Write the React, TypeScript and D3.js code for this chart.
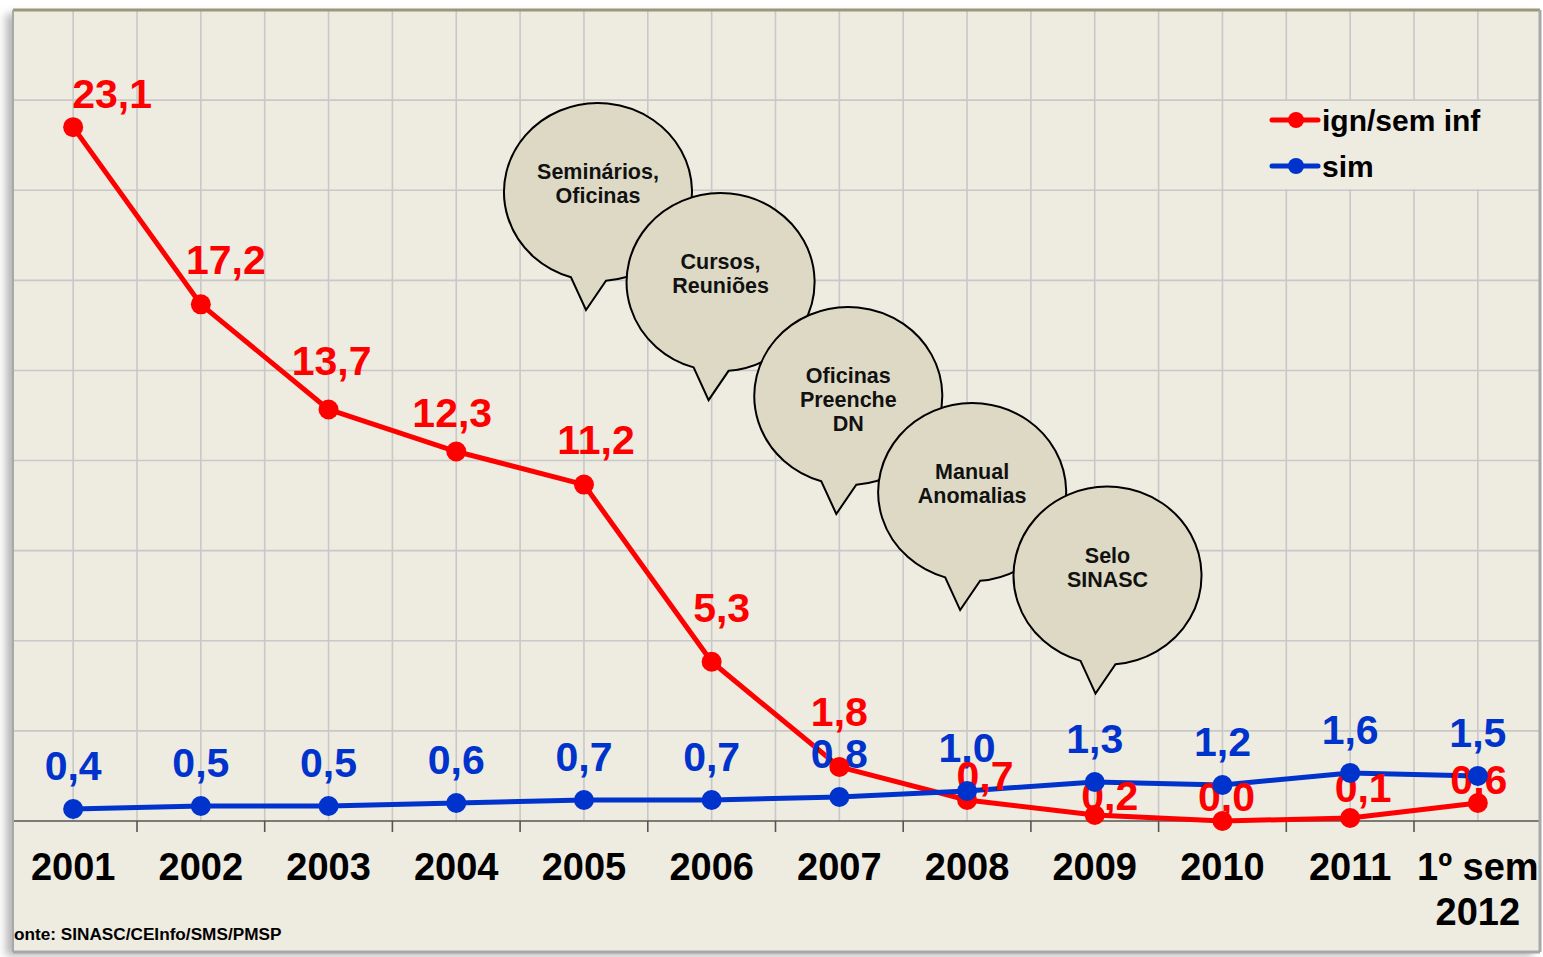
import React from "react";
import * as d3 from "d3";

const categories = ["2001", "2002", "2003", "2004", "2005", "2006", "2007", "2008", "2009", "2010", "2011", "1º sem|2012"];
const ignSemInf = [23.1, 17.2, 13.7, 12.3, 11.2, 5.3, 1.8, 0.7, 0.2, 0.0, 0.1, 0.6];
const sim = [0.4, 0.5, 0.5, 0.6, 0.7, 0.7, 0.8, 1.0, 1.3, 1.2, 1.6, 1.5];
const yTicks = [3, 6, 9, 12, 15, 18, 21, 24, 27];
const seriesNames = ["ign/sem inf", "sim"];

// layout: label offsets (px) for the red series labels
const redLabelOffsets: [number, number][] = [
  [39, -19], [25, -30], [3, -34], [-4, -25], [12, -31], [10, -40],
  [0, -41], [18, -10], [15, -5], [4, -10], [13, -16], [1, -9],
];

// annotation bubbles: fractional category index + y value of centre
const bubbles = [
  { idx: 4.11, value: 20.94, lines: ["Seminários,", "Oficinas"] },
  { idx: 5.07, value: 17.94, lines: ["Cursos,", "Reuniões"] },
  { idx: 6.07, value: 14.15, lines: ["Oficinas", "Preenche", "DN"] },
  { idx: 7.04, value: 10.95, lines: ["Manual", "Anomalias"] },
  { idx: 8.1, value: 8.17, lines: ["Selo", "SINASC"] },
];

const W = 1543, H = 957;
const FL = 13, FT = 10, FR = 1540, FB = 952;
const RED = "#FF0000";
const BLUE = "#0033CC";
const BG = "#EEEBE0";
const FONT = "'Liberation Sans', Arial, Helvetica, sans-serif";

export default function App() {
  const x = d3.scaleBand<string>().domain(categories).range([9.3, 1541.7]).paddingInner(0).paddingOuter(0);
  const bw = x.bandwidth();
  const cx = (c: string) => (x(c) as number) + bw / 2;
  const y = d3.scaleLinear().domain([0, 27]).range([821, 10]);
  const idxToX = d3.scaleLinear().domain([0, 1]).range([cx(categories[0]), cx(categories[1])]);

  const line = d3.line<number>().x((_, i) => cx(categories[i])).y((d) => y(d));

  const vGrid: number[] = [];
  categories.forEach((c, i) => {
    if (i > 0) vGrid.push(x(c) as number);
    vGrid.push(cx(c));
  });

  const fmt = (v: number) => v.toFixed(1).replace(".", ",");

  const rx = 94, ry = 89;
  const bubblePath = (bx: number, by: number) => {
    const lx = -27, rxp = 8;
    const ly = ry * Math.sqrt(1 - (lx / rx) ** 2);
    const rY = ry * Math.sqrt(1 - (rxp / rx) ** 2);
    return `M${bx + rxp},${by + rY} A${rx},${ry} 0 1 0 ${bx + lx},${by + ly} L${bx - 12},${by + 118} Z`;
  };

  return (
    <svg width={W} height={H} style={{ position: "absolute", left: 0, top: 0, background: "#fff" }} fontFamily={FONT}>
      <defs>
        <filter id="sh" x="-10%" y="-10%" width="120%" height="120%">
          <feGaussianBlur stdDeviation="4" />
        </filter>
        <clipPath id="frame">
          <rect x={FL} y={FT} width={FR - FL} height={FB - FT} />
        </clipPath>
      </defs>
      <rect x={FL - 7} y={FT + 4} width={FR - FL} height={FB - FT} fill="#b5b5b5" filter="url(#sh)" />
      <rect x={FL} y={FT} width={FR - FL} height={FB - FT} fill={BG} />
      <g clipPath="url(#frame)">
        {yTicks.map((t) => (
          <line key={"h" + t} x1={FL} x2={FR} y1={y(t)} y2={y(t)} stroke="#C8C8C8" strokeWidth={1.6} />
        ))}
        {vGrid.map((gx, i) => (
          <line key={"v" + i} x1={gx} x2={gx} y1={FT} y2={y(0)} stroke="#C8C8C8" strokeWidth={1.6} />
        ))}
        {/* axis */}
        <line x1={FL} x2={FR} y1={y(0)} y2={y(0)} stroke="#555" strokeWidth={1.6} />
        {categories.slice(1).map((c) => (
          <line key={"t" + c} x1={x(c) as number} x2={x(c) as number} y1={y(0)} y2={y(0) + 11} stroke="#555" strokeWidth={1.6} />
        ))}
        {categories.map((c) => {
          const parts = c.split("|");
          return (
            <text key={"xl" + c} x={cx(c)} y={880} textAnchor="middle" fontSize={38} fontWeight="bold" fill="#000">
              {parts.map((p, j) => (
                <tspan key={j} x={cx(c)} dy={j === 0 ? 0 : 45}>{p}</tspan>
              ))}
            </text>
          );
        })}

        {/* bubbles */}
        {bubbles.map((b, i) => {
          const bx = idxToX(b.idx), by = y(b.value);
          return (
            <g key={"b" + i}>
              <path d={bubblePath(bx, by)} fill="#DDD9C4" stroke="#000" strokeWidth={2} strokeLinejoin="miter" />
              {b.lines.map((l, j) => (
                <text key={j} x={bx} y={by - 13 + j * 24} textAnchor="middle" fontSize={21.5} fontWeight="bold" fill="#111">{l}</text>
              ))}
            </g>
          );
        })}

        {/* lines */}
        <path d={line(ignSemInf) as string} fill="none" stroke={RED} strokeWidth={5} strokeLinejoin="round" />
        <path d={line(sim) as string} fill="none" stroke={BLUE} strokeWidth={5} strokeLinejoin="round" />
        {sim.map((v, i) => (
          <text key={"bl" + i} x={cx(categories[i])} y={y(v) - 29} textAnchor="middle" fontSize={41} fontWeight="bold" fill={BLUE}>{fmt(v)}</text>
        ))}
        {ignSemInf.map((v, i) => (
          <circle key={"rm" + i} cx={cx(categories[i])} cy={y(v)} r={10} fill={RED} />
        ))}
        {ignSemInf.map((v, i) => (
          <text key={"rl" + i} x={cx(categories[i]) + redLabelOffsets[i][0]} y={y(v) + redLabelOffsets[i][1]} textAnchor="middle" fontSize={41} fontWeight="bold" fill={RED}>{fmt(v)}</text>
        ))}
        {sim.map((v, i) => (
          <circle key={"bm" + i} cx={cx(categories[i])} cy={y(v)} r={10} fill={BLUE} />
        ))}

        {/* legend */}
        <rect x={1265} y={101} width={225} height={88} fill={BG} />
        {seriesNames.map((n, i) => {
          const ly = 120 + i * 46;
          const col = i === 0 ? RED : BLUE;
          return (
            <g key={"lg" + i}>
              <line x1={1272} x2={1318} y1={ly} y2={ly} stroke={col} strokeWidth={5} strokeLinecap="round" />
              <circle cx={1296} cy={ly} r={8} fill={col} />
              <text x={1322} y={ly + 11} fontSize={30} fontWeight="bold" fill="#000">{n}</text>
            </g>
          );
        })}

        <text x={14} y={940} fontSize={17.2} fontWeight="bold" fill="#000">onte: SINASC/CEInfo/SMS/PMSP</text>
      </g>
      {/* frame borders */}
      <line x1={FL} x2={FR} y1={FT} y2={FT} stroke="#9C9776" strokeWidth={3} />
      <line x1={FR} x2={FR} y1={FT} y2={FB} stroke="#A8A8A8" strokeWidth={3} />
      <line x1={FL} x2={FR} y1={FB} y2={FB} stroke="#A8A8A8" strokeWidth={3} />
      <line x1={FL} x2={FL} y1={FT} y2={FB} stroke="#A8A8A8" strokeWidth={2} />
    </svg>
  );
}
